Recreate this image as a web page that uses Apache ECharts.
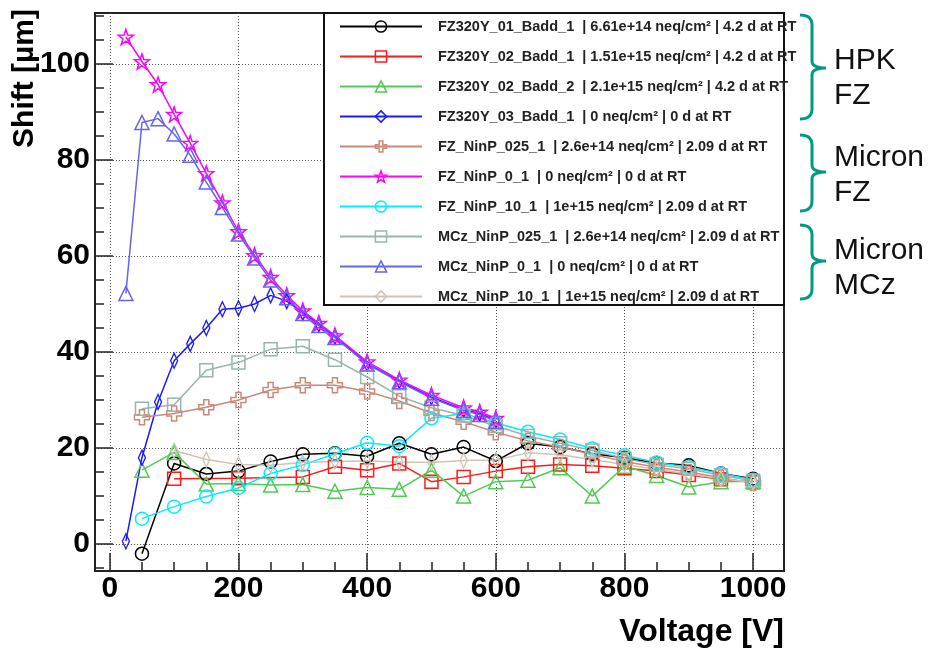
<!DOCTYPE html>
<html><head><meta charset="utf-8">
<script src="https://cdn.jsdelivr.net/npm/echarts@6/dist/echarts.min.js"></script>
<style>html,body{margin:0;padding:0;background:#fff}#c{width:930px;height:651px}</style>
</head><body><div id="c"></div>
<script>
// ---- axis ticks ----
const xMajorTicks = [0, 200, 400, 600, 800, 1000];
const xMinorTicks = [0, 50, 100, 150, 200, 250, 300, 350, 400, 450, 500, 550, 600, 650, 700, 750, 800, 850, 900, 950, 1000];
const yMajorTicks = [0, 20, 40, 60, 80, 100];
const yMinorTicks = [-5, 0, 5, 10, 15, 20, 25, 30, 35, 40, 45, 50, 55, 60, 65, 70, 75, 80, 85, 90, 95, 100, 105, 110];

// ---- series names / legend labels ----
const seriesNames = ['FZ320Y_01_Badd_1', 'FZ320Y_02_Badd_1', 'FZ320Y_02_Badd_2', 'FZ320Y_03_Badd_1',
  'FZ_NinP_025_1', 'FZ_NinP_0_1', 'FZ_NinP_10_1', 'MCz_NinP_025_1', 'MCz_NinP_0_1', 'MCz_NinP_10_1'];
const legendLabels = [
  'FZ320Y_01_Badd_1  | 6.61e+14 neq/cm\u00b2 | 4.2 d at RT',
  'FZ320Y_02_Badd_1  | 1.51e+15 neq/cm\u00b2 | 4.2 d at RT',
  'FZ320Y_02_Badd_2  | 2.1e+15 neq/cm\u00b2 | 4.2 d at RT',
  'FZ320Y_03_Badd_1  | 0 neq/cm\u00b2 | 0 d at RT',
  'FZ_NinP_025_1  | 2.6e+14 neq/cm\u00b2 | 2.09 d at RT',
  'FZ_NinP_0_1  | 0 neq/cm\u00b2 | 0 d at RT',
  'FZ_NinP_10_1  | 1e+15 neq/cm\u00b2 | 2.09 d at RT',
  'MCz_NinP_025_1  | 2.6e+14 neq/cm\u00b2 | 2.09 d at RT',
  'MCz_NinP_0_1  | 0 neq/cm\u00b2 | 0 d at RT',
  'MCz_NinP_10_1  | 1e+15 neq/cm\u00b2 | 2.09 d at RT'];

// ---- data: voltages [V] and shifts [um] ----
const vFZ320Y_01_Badd_1 = [50, 100, 150, 200, 250, 300, 350, 400, 450, 500, 550, 600, 650, 700, 750, 800, 850, 900, 950, 1000];
const sFZ320Y_01_Badd_1 = [-2, 16.8, 14.6, 15.2, 17.2, 18.7, 18.9, 18.3, 21, 18.7, 20.2, 17.3, 21, 20.2, 18.8, 18, 16.9, 16.4, 14.7, 13.6];

const vFZ320Y_02_Badd_1 = [100, 200, 300, 350, 400, 450, 500, 550, 600, 650, 700, 750, 800, 850, 900, 950, 1000];
const sFZ320Y_02_Badd_1 = [13.6, 13.7, 14, 16.1, 15.4, 16.8, 13, 14, 15.2, 16.1, 16.6, 16.3, 15.8, 15.2, 14.4, 13.5, 12.9];

const vFZ320Y_02_Badd_2 = [50, 100, 150, 200, 250, 300, 350, 400, 450, 500, 550, 600, 650, 700, 750, 800, 850, 900, 950, 1000];
const sFZ320Y_02_Badd_2 = [15.4, 19.1, 12.5, 12.6, 12.3, 12.4, 11, 11.8, 11.4, 15.4, 10, 13, 13.3, 15.9, 10, 16.2, 14.3, 11.9, 13, 13.1];

const vFZ320Y_03_Badd_1 = [25, 50, 75, 100, 125, 150, 175, 200, 225, 250, 275, 300, 325, 350, 400, 450, 500, 550, 575, 600];
const sFZ320Y_03_Badd_1 = [0.6, 18, 29.6, 38.2, 41.7, 45, 48.9, 49.1, 50, 51.8, 50.6, 48.2, 45.8, 43.2, 37.6, 34, 30.6, 28, 27.2, 25.8];

const vFZ_NinP_025_1 = [50, 100, 150, 200, 250, 300, 350, 400, 450, 500, 550, 600, 650, 700, 750, 800, 850, 900, 950, 1000];
const sFZ_NinP_025_1 = [26.4, 27.2, 28.5, 30, 32.1, 33.1, 33.1, 31.8, 29.8, 27.3, 25.5, 23.3, 21.5, 20.2, 18.7, 17.2, 16, 15, 13.8, 12.7];

const vFZ_NinP_0_1 = [25, 50, 75, 100, 125, 150, 175, 200, 225, 250, 275, 300, 325, 350, 400, 450, 500, 550, 575, 600];
const sFZ_NinP_0_1 = [105.6, 100.5, 95.7, 89.5, 83.5, 77.2, 71.1, 65.1, 60.1, 55.6, 51.8, 48.6, 46, 43.4, 38, 34.2, 31, 28.4, 27.5, 26.2];

const vFZ_NinP_10_1 = [50, 100, 150, 200, 250, 300, 350, 400, 450, 500, 550, 600, 650, 700, 750, 800, 850, 900, 950, 1000];
const sFZ_NinP_10_1 = [5.3, 7.8, 9.9, 11.7, 14.7, 16.5, 18.8, 21.1, 20.4, 26.2, 27.2, 25.2, 23.4, 21.8, 19.9, 18.5, 17, 16, 14.7, 13.4];

const vMCz_NinP_025_1 = [50, 100, 150, 200, 250, 300, 350, 400, 450, 500, 550, 600, 650, 700, 750, 800, 850, 900, 950, 1000];
const sMCz_NinP_025_1 = [28.2, 29, 36.2, 37.8, 40.6, 41.2, 38.4, 34.8, 30.8, 28.4, 26.8, 24.6, 22.5, 21, 19.5, 17.8, 16.5, 15.7, 14.3, 13.2];

const vMCz_NinP_0_1 = [25, 50, 75, 100, 125, 150, 175, 200, 225, 250, 275, 300, 325, 350, 400, 450, 500, 550, 575, 600];
const sMCz_NinP_0_1 = [52.2, 87.8, 88.6, 85.4, 81, 75.4, 70.1, 64.6, 59.6, 55, 51.3, 48, 45.5, 43, 37.5, 33.8, 30.4, 27.8, 27, 25.6];

const vMCz_NinP_10_1 = [100, 150, 200, 250, 300, 350, 400, 450, 500, 550, 600, 650, 700, 750, 800, 850, 900, 950, 1000];
const sMCz_NinP_10_1 = [19.5, 17.6, 16.6, 16.4, 17, 17.2, 17.3, 17.1, 17, 17.4, 17.5, 19, 18.6, 17.6, 16.6, 15.6, 14.6, 13.6, 12.9];

// ---- styling ----
const FONT = 'Liberation Sans, Arial, Helvetica, sans-serif';
const STAR = 'path://M0,-10 L2.35,-3.24 L9.51,-3.09 L3.8,1.24 L5.88,8.09 L0,4 L-5.88,8.09 L-3.8,1.24 L-9.51,-3.09 L-2.35,-3.24 Z';
const CROSS = 'path://M-1,-3 L1,-3 L1,-1 L3,-1 L3,1 L1,1 L1,3 L-1,3 L-1,1 L-3,1 L-3,-1 L-1,-1 Z';
const styles = [
  { color: '#000000', symbol: 'circle', size: 13 },
  { color: '#ff1a1a', symbol: 'rect', size: 13 },
  { color: '#4fcc4f', symbol: 'triangle', size: 14 },
  { color: '#1a1aff', symbol: 'diamond', size: [7, 15] },
  { color: '#cc8877', symbol: CROSS, size: 15 },
  { color: '#ff00ff', symbol: STAR, size: 15 },
  { color: '#00eeff', symbol: 'circle', size: 13 },
  { color: '#99b5aa', symbol: 'rect', size: 13 },
  { color: '#6464ee', symbol: 'triangle', size: 14 },
  { color: '#cfc3b6', symbol: 'diamond', size: [7, 15] }
];
const dataSets = [
  [vFZ320Y_01_Badd_1, sFZ320Y_01_Badd_1], [vFZ320Y_02_Badd_1, sFZ320Y_02_Badd_1],
  [vFZ320Y_02_Badd_2, sFZ320Y_02_Badd_2], [vFZ320Y_03_Badd_1, sFZ320Y_03_Badd_1],
  [vFZ_NinP_025_1, sFZ_NinP_025_1], [vFZ_NinP_0_1, sFZ_NinP_0_1], [vFZ_NinP_10_1, sFZ_NinP_10_1],
  [vMCz_NinP_025_1, sMCz_NinP_025_1], [vMCz_NinP_0_1, sMCz_NinP_0_1], [vMCz_NinP_10_1, sMCz_NinP_10_1]
];

const series = seriesNames.map((name, i) => ({
  type: 'line', name: name,
  xAxisIndex: 0, yAxisIndex: 0,
  data: dataSets[i][0].map((x, j) => [x, dataSets[i][1][j]]),
  symbol: styles[i].symbol, symbolSize: styles[i].size, showSymbol: true,
  lineStyle: { color: styles[i].color, width: 1.5 },
  itemStyle: { color: 'rgba(255,255,255,0)', borderColor: styles[i].color, borderWidth: 1.5 },
  emphasis: { disabled: true }, z: 2
}));

const GRID = { left: 95, right: 146, top: 13, bottom: 80 };
const XMIN = -23, XMAX = 1048, YMIN = -5.6, YMAX = 110.6;
const TEAL = '#009a80';

// decorative curly bracket as polyline points
function quad(p0, c, p1, pts) {
  for (let k = 1; k <= 8; k++) {
    const t = k / 8, u = 1 - t;
    pts.push([u * u * p0[0] + 2 * u * t * c[0] + t * t * p1[0], u * u * p0[1] + 2 * u * t * c[1] + t * t * p1[1]]);
  }
}
function bracketPoints(y0, ym, y1) {
  const pts = [[800, y0]];
  quad([800, y0], [812, y0], [812, y0 + 10], pts);
  pts.push([812, ym - 7]);
  quad([812, ym - 7], [812, ym], [826, ym], pts);
  quad([826, ym], [812, ym], [812, ym + 7], pts);
  pts.push([812, y1 - 10]);
  quad([812, y1 - 10], [812, y1], [800, y1], pts);
  return pts;
}
const plainNum = function (v) { return String(v); };

const chart = echarts.init(document.getElementById('c'), null, { renderer: 'canvas' });
chart.setOption({
  animation: false,
  backgroundColor: '#ffffff',
  grid: [
    Object.assign({ show: true, borderColor: '#222', borderWidth: 2, backgroundColor: '#fff' }, GRID),
    Object.assign({ show: false }, GRID)
  ],
  xAxis: [
    { type: 'value', gridIndex: 0, min: XMIN, max: XMAX, position: 'bottom',
      axisLine: { show: true, onZero: false, lineStyle: { color: '#222', width: 2 } },
      axisTick: { show: true, inside: true, length: 18, customValues: xMajorTicks, lineStyle: { color: '#222', width: 1.5 } },
      axisLabel: { show: true, customValues: xMajorTicks, formatter: plainNum, fontSize: 30, fontWeight: 'bold', fontFamily: FONT, color: '#000', margin: 3 },
      splitLine: { show: true, lineStyle: { type: [1, 2], color: '#555', width: 1 } },
      name: 'Voltage [V]', nameLocation: 'end', nameGap: 0,
      nameTextStyle: { fontSize: 32, fontWeight: 'bold', fontFamily: FONT, color: '#000', align: 'right', verticalAlign: 'top', padding: [45, 0, 0, 0] }
    },
    { type: 'value', gridIndex: 1, min: XMIN, max: XMAX, position: 'bottom',
      axisLine: { show: false, onZero: false },
      axisTick: { show: true, inside: true, length: 9, customValues: xMinorTicks, lineStyle: { color: '#222', width: 1.5 } },
      axisLabel: { show: false }, splitLine: { show: false } }
  ],
  yAxis: [
    { type: 'value', gridIndex: 0, min: YMIN, max: YMAX, position: 'left',
      axisLine: { show: true, onZero: false, lineStyle: { color: '#222', width: 2 } },
      axisTick: { show: true, inside: true, length: 18, customValues: yMajorTicks, lineStyle: { color: '#222', width: 1.5 } },
      axisLabel: { show: true, customValues: yMajorTicks, formatter: plainNum, fontSize: 30, fontWeight: 'bold', fontFamily: FONT, color: '#000', margin: 5 },
      splitLine: { show: true, lineStyle: { type: [1, 2], color: '#555', width: 1 } }
    },
    { type: 'value', gridIndex: 1, min: YMIN, max: YMAX, position: 'left',
      axisLine: { show: false, onZero: false },
      axisTick: { show: true, inside: true, length: 9, customValues: yMinorTicks, lineStyle: { color: '#222', width: 1.5 } },
      axisLabel: { show: false }, splitLine: { show: false } }
  ],
  legend: {
    orient: 'vertical', left: 339, top: 19, padding: 0,
    itemWidth: 82, itemHeight: 14, itemGap: 15,
    data: seriesNames, selectedMode: false,
    formatter: function (n) { return legendLabels[seriesNames.indexOf(n)]; },
    itemStyle: { borderWidth: 1.5 },
    textStyle: { fontFamily: FONT, fontWeight: 'bold', fontSize: 14.5, color: '#222', lineHeight: 14, padding: [0, 0, 0, 11] }
  },
  graphic: [
    { type: 'rect', z: 3, shape: { x: 324, y: 13, width: 460, height: 292 }, style: { fill: '#fff', stroke: '#111', lineWidth: 2 } },
    { type: 'text', x: 25, y: 9, rotation: Math.PI / 2, style: { text: 'Shift [\u00b5m]', font: 'bold 30px ' + FONT, fill: '#000', align: 'right', verticalAlign: 'middle' } },
    { type: 'polyline', shape: { points: bracketPoints(15, 68, 119) }, style: { fill: null, stroke: TEAL, lineWidth: 3 } },
    { type: 'polyline', shape: { points: bracketPoints(135, 172, 211) }, style: { fill: null, stroke: TEAL, lineWidth: 3 } },
    { type: 'polyline', shape: { points: bracketPoints(225, 261, 299) }, style: { fill: null, stroke: TEAL, lineWidth: 3 } },
    { type: 'text', x: 834, y: 78, style: { text: 'HPK\nFZ', font: '30px ' + FONT, fill: '#111', verticalAlign: 'middle', lineHeight: 35 } },
    { type: 'text', x: 834, y: 175, style: { text: 'Micron\nFZ', font: '30px ' + FONT, fill: '#111', verticalAlign: 'middle', lineHeight: 35 } },
    { type: 'text', x: 834, y: 268, style: { text: 'Micron\nMCz', font: '30px ' + FONT, fill: '#111', verticalAlign: 'middle', lineHeight: 35 } }
  ],
  series: series
});
</script></body></html>
